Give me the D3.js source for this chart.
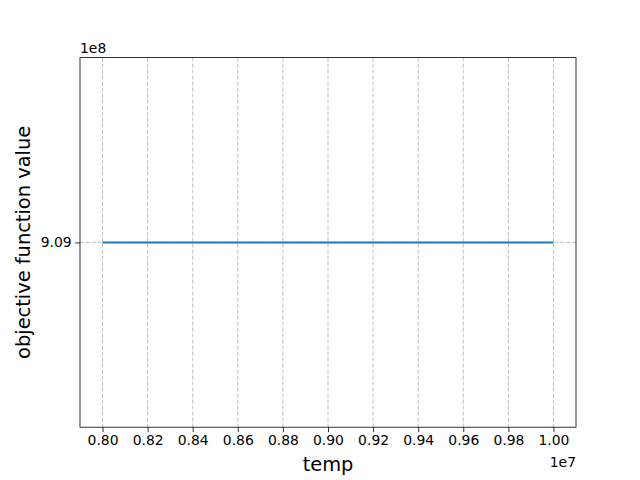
<!DOCTYPE html>
<html lang="en">
<head>
<meta charset="utf-8">
<title>temp vs objective</title>
<script src="https://cdn.jsdelivr.net/npm/d3@7"></script>
<style>
  body { margin: 0; background: #fff; }
  text { font-family: "DejaVu Sans", sans-serif; fill: #000; }
</style>
</head>
<body>
<script>
// data
var temps = [8000000, 8200000, 8400000, 8600000, 8800000, 9000000, 9200000, 9400000, 9600000, 9800000, 10000000];
var objValues = [909000000, 909000000, 909000000, 909000000, 909000000, 909000000, 909000000, 909000000, 909000000, 909000000, 909000000];
var xTicks = [8000000, 8200000, 8400000, 8600000, 8800000, 9000000, 9200000, 9400000, 9600000, 9800000, 10000000];
var yTicks = [909000000];

var W = 640, H = 480;
// plot area (note: "top" is a reserved window property, so use other names)
var axL = 80, axR = 576, axT = 57.6, axB = 427.2;

var svg = d3.select("body").append("svg").attr("width", W).attr("height", H);

// matplotlib-like 5% margins
var xSpan = d3.max(temps) - d3.min(temps);
var x = d3.scaleLinear()
    .domain([d3.min(temps) - 0.05 * xSpan, d3.max(temps) + 0.05 * xSpan])
    .range([axL, axR]);
var yMid = objValues[0];
var y = d3.scaleLinear().domain([yMid - 1, yMid + 1]).range([axB, axT]);

// grid
svg.append("g").selectAll("line").data(xTicks).enter().append("line")
    .attr("x1", function(d) { return x(d); }).attr("x2", function(d) { return x(d); })
    .attr("y1", axT).attr("y2", axB)
    .attr("stroke", "#b0b0b0").attr("stroke-opacity", 0.8)
    .attr("stroke-width", 1).attr("stroke-dasharray", "4,2");
svg.append("g").selectAll("line").data(yTicks).enter().append("line")
    .attr("x1", axL).attr("x2", axR)
    .attr("y1", function(d) { return y(d); }).attr("y2", function(d) { return y(d); })
    .attr("stroke", "#b0b0b0").attr("stroke-opacity", 0.8)
    .attr("stroke-width", 1).attr("stroke-dasharray", "4,2");

// the line
var line = d3.line()
    .x(function(d, i) { return x(temps[i]); })
    .y(function(d) { return y(d); });
svg.append("path").datum(objValues)
    .attr("d", line)
    .attr("fill", "none").attr("stroke", "#1f77b4").attr("stroke-width", 2);

// axes
var xAxis = d3.axisBottom(x).tickValues(xTicks).tickSizeOuter(0).tickSize(4.9).tickPadding(3.5)
    .tickFormat(function(d) { return (d / 1e7).toFixed(2); });
var gx = svg.append("g").attr("transform", "translate(0," + axB + ")").call(xAxis);
var yAxis = d3.axisLeft(y).tickValues(yTicks).tickSizeOuter(0).tickSize(4.9).tickPadding(3.5)
    .tickFormat(function(d) { return (d / 1e8).toFixed(2); });
var gy = svg.append("g").attr("transform", "translate(" + axL + ",0)").call(yAxis);
[gx, gy].forEach(function(g) {
    g.select(".domain").remove();
    g.selectAll("line").attr("stroke", "#000").attr("stroke-width", 0.8);
    g.selectAll("text").style("font-size", "13.9px").attr("fill", "#000")
        .style("font-family", "DejaVu Sans, sans-serif");
});

// frame
svg.append("rect").attr("x", axL).attr("y", axT)
    .attr("width", axR - axL).attr("height", axB - axT)
    .attr("fill", "none").attr("stroke", "#000").attr("stroke-width", 0.8);

// offset texts
svg.append("text").attr("x", axL).attr("y", 53).style("font-size", "13.9px").text("1e8");
svg.append("text").attr("x", axR).attr("y", 467).attr("text-anchor", "end")
    .style("font-size", "13.9px").text("1e7");

// axis labels
svg.append("text").attr("x", (axL + axR) / 2).attr("y", 471).attr("text-anchor", "middle")
    .style("font-size", "19.4px").text("temp");
svg.append("text").attr("transform", "translate(30," + ((axT + axB) / 2) + ") rotate(-90)")
    .attr("text-anchor", "middle").style("font-size", "19.4px").text("objective function value");
</script>
</body>
</html>
